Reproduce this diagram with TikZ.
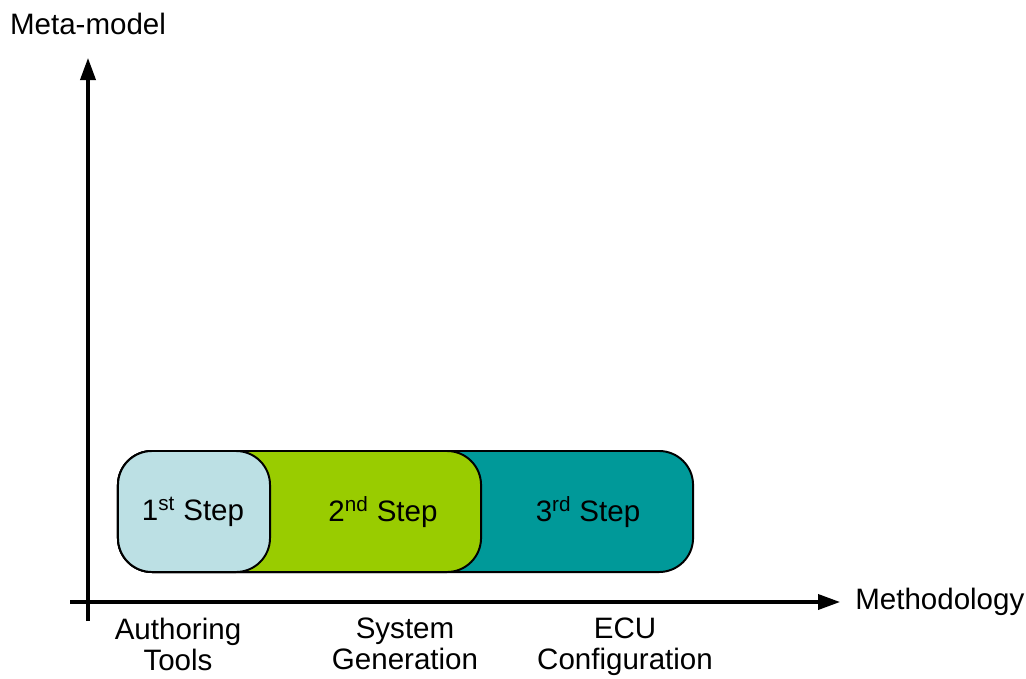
\documentclass[tikz,border=0pt]{standalone}
\usepackage{fontspec}
\setmainfont{Liberation Sans}
\usepackage{xcolor}
\usetikzlibrary{arrows.meta,positioning}
\definecolor{stepblue}{HTML}{BCE0E4}
\definecolor{stepgreen}{HTML}{99CC00}
\definecolor{stepteal}{HTML}{009999}

\begin{document}
\begin{tikzpicture}[
  x=0.025cm, y=-0.025cm,
  font=\fontsize{21}{22}\selectfont,
  stepbox/.style={draw=black, line width=1.4pt, rounded corners=0.85cm,
                  minimum height=3.025cm, inner sep=0pt},
  steplabel/.style={inner sep=0pt, anchor=center},
  toollabel/.style={align=center, inner sep=0pt, anchor=north},
  axis/.style={-{Triangle[length=0.55cm, width=0.38cm]}, line width=2.2pt, black}
]
\useasboundingbox (0,0) rectangle (1026,678);

% --- three overlapping steps ---
\node[stepbox, fill=stepteal, minimum width=14.375cm] (s3box) at (405.5,511.5) {};
\node[stepbox, fill=stepgreen, minimum width=9.075cm] (s2box) at (299.5,511.5) {};
\node[stepbox, fill=stepblue, minimum width=3.8cm] (s1box) at (194,511.5) {};

\node[steplabel] (s1) at (193,512) {1\textsuperscript{st} Step};
\node[steplabel] (s2) at (383,512) {2\textsuperscript{nd} Step};
\node[steplabel] (s3) at (588,512) {3\textsuperscript{rd} Step};

% --- axes ---
\coordinate (ybot) at (88,621);
\coordinate (ytip) at (88,58);
\coordinate (xbot) at (70,602);
\coordinate (xtip) at (840,602);
\draw[axis] (ybot) -- (ytip);
\draw[axis] (xbot) -- (xtip);

\node[anchor=west, inner sep=0pt] (xlabel) at (855,602) {Methodology};
\node[inner sep=0pt] (ylabel) at (88,24) {Meta-model};

% --- tools under the axis ---
\node[toollabel] (t1) at (178,618) {Authoring\\Tools};
\node[toollabel] (t2) at (405,618) {System\\Generation};
\node[toollabel] (t3) at (625,618) {ECU\\Configuration};

\end{tikzpicture}
\end{document}
